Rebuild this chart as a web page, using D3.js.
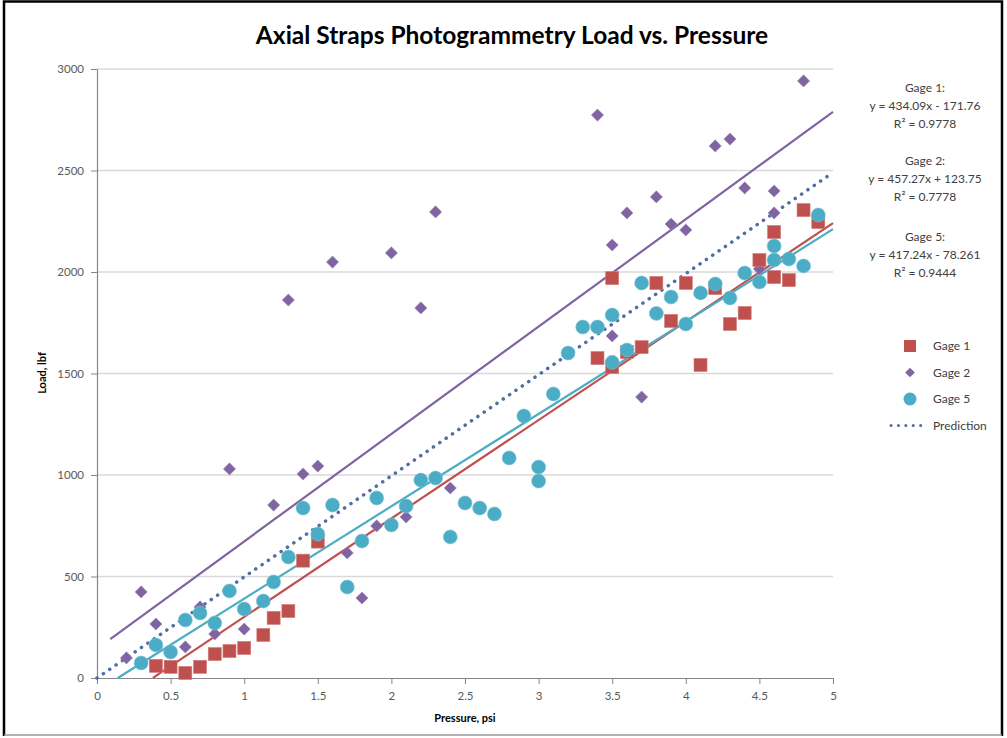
<!DOCTYPE html>
<html>
<head>
<meta charset="utf-8">
<script src="https://cdn.jsdelivr.net/npm/d3@7"></script>
<style>
  body { margin: 0; background: #fff; }
  text { font-family: Lato, "Open Sans", sans-serif; }
</style>
</head>
<body>
<div id="chart"></div>
<script>
// Données
const gage1X = [0.4, 0.5, 0.6, 0.7, 0.8, 0.9, 1.0, 1.13, 1.2, 1.3, 1.4, 1.5,
  3.4, 3.5, 3.5, 3.6, 3.7, 3.8, 3.9, 4.0, 4.1, 4.2, 4.3, 4.4, 4.5, 4.6, 4.6, 4.7, 4.8, 4.9];
const gage1Y = [60, 55, 25, 55, 118, 133, 148, 212, 296, 330, 578, 672,
  1576, 1970, 1532, 1606, 1630, 1946, 1759, 1946, 1542, 1921, 1744, 1798, 2059, 1975, 2197, 1960, 2305, 2246];

const gage2X = [0.2, 0.3, 0.4, 0.6, 0.7, 0.8, 0.9, 1.0, 1.2, 1.3, 1.4, 1.5, 1.6, 1.7, 1.8, 1.9, 2.0, 2.1, 2.2, 2.3, 2.4,
  3.4, 3.5, 3.5, 3.6, 3.7, 3.8, 3.9, 4.0, 4.2, 4.3, 4.4, 4.5, 4.6, 4.6, 4.8];
const gage2Y = [99, 424, 266, 153, 350, 217, 1030, 241, 852, 1862, 1005, 1044, 2049, 616, 394, 749, 2094, 793, 1823, 2296, 936,
  2773, 2133, 1685, 2291, 1384, 2370, 2236, 2207, 2621, 2655, 2414, 2015, 2399, 2291, 2941];

const gage5X = [0.3, 0.4, 0.5, 0.6, 0.7, 0.8, 0.9, 1.0, 1.13, 1.2, 1.3, 1.4, 1.5, 1.6, 1.7, 1.8, 1.9, 2.0, 2.1, 2.2, 2.3,
  2.4, 2.5, 2.6, 2.7, 2.8, 2.9, 3.0, 3.0, 3.1, 3.2, 3.3, 3.4, 3.5, 3.5, 3.6, 3.7, 3.8, 3.9, 4.0, 4.1, 4.2, 4.3, 4.4, 4.5,
  4.6, 4.6, 4.7, 4.8, 4.9];
const gage5Y = [74, 163, 128, 286, 320, 271, 429, 340, 379, 473, 596, 837, 709, 852, 448, 675, 887, 754, 847, 975, 985,
  695, 862, 837, 808, 1084, 1291, 1039, 970, 1399, 1601, 1729, 1729, 1788, 1555, 1616, 1946, 1796, 1877, 1744, 1897, 1941,
  1872, 1995, 1951, 2059, 2128, 2064, 2030, 2281];

// Courbes de tendance tracées (pente, ordonnée, début)
const trendSeries = ["Gage 1", "Gage 2", "Gage 5"];
const trendSlopes = [485, 529, 455];
const trendIntercepts = [-184, 144, -64];
const trendStarts = [0.38, 0.09, 0.141];
const trendEnd = 5;

const predX = [0, 5];
const predY = [0, 2490];

const equations = [
  ["Gage 1:", "y = 434.09x - 171.76", "R² = 0.9778"],
  ["Gage 2:", "y = 457.27x + 123.75", "R² = 0.7778"],
  ["Gage 5:", "y = 417.24x - 78.261", "R² = 0.9444"]
];
const legendNames = ["Gage 1", "Gage 2", "Gage 5", "Prediction"];
const xTicks = [0, 0.5, 1, 1.5, 2, 2.5, 3, 3.5, 4, 4.5, 5];
const yTicks = [0, 500, 1000, 1500, 2000, 2500, 3000];

// Dimensions
const width = 1007;
const height = 738;
const plotLeft = 97, plotRight = 833, plotTop = 69, plotBottom = 678;

const colors = { "Gage 1": "#C0504D", "Gage 2": "#8064A2", "Gage 5": "#4BACC6", "Prediction": "#4F6FA3" };

const svg = d3.select("#chart")
    .append("svg")
    .attr("width", width)
    .attr("height", height);

// Cadre
svg.append("path")
    .attr("d", "M4,736 V1.5 H1002 V736")
    .attr("fill", "none")
    .attr("stroke", "#000")
    .attr("stroke-width", 2.5);
svg.append("line")
    .attr("x1", 4).attr("x2", 1002).attr("y1", 735).attr("y2", 735)
    .attr("stroke", "#9a9a9a")
    .attr("stroke-width", 1.5);

const x = d3.scaleLinear().domain([0, 5]).range([plotLeft, plotRight]);
const y = d3.scaleLinear().domain([0, 3000]).range([plotBottom, plotTop]);

// Quadrillage
svg.append("g")
    .selectAll("line")
    .data(yTicks.filter(d => d > 0))
    .enter()
    .append("line")
    .attr("x1", plotLeft).attr("x2", plotRight)
    .attr("y1", d => y(d)).attr("y2", d => y(d))
    .attr("stroke", "#d9d9d9")
    .attr("stroke-width", 1.5);

// Axes
const xAxis = svg.append("g")
    .attr("transform", `translate(0,${plotBottom})`)
    .call(d3.axisBottom(x).tickValues(xTicks).tickFormat(d => d).tickSize(6).tickSizeOuter(0).tickPadding(8));
const yAxis = svg.append("g")
    .attr("transform", `translate(${plotLeft},0)`)
    .call(d3.axisLeft(y).tickValues(yTicks).tickFormat(d3.format("d")).tickSize(6).tickSizeOuter(0).tickPadding(7));

[xAxis, yAxis].forEach(function(g) {
    g.select(".domain").attr("stroke", "#868686").attr("stroke-width", 1.2);
    g.selectAll(".tick line").attr("stroke", "#868686");
    g.selectAll(".tick text")
        .attr("fill", "#595959")
        .style("font-size", "11.5px")
        .style("font-family", "Lato, sans-serif");
});

// Lignes de tendance
const line = d3.line().x(d => x(d[0])).y(d => y(d[1]));
trendSeries.forEach(function(name, i) {
    const pts = [trendStarts[i], trendEnd].map(v => [v, trendSlopes[i] * v + trendIntercepts[i]]);
    svg.append("path")
        .attr("d", line(pts))
        .attr("fill", "none")
        .attr("stroke", colors[name])
        .attr("stroke-width", 2.2);
});

// Prédiction
svg.append("path")
    .attr("d", line(predX.map((v, i) => [v, predY[i]])))
    .attr("fill", "none")
    .attr("stroke", colors["Prediction"])
    .attr("stroke-width", 3.5)
    .attr("stroke-linecap", "round")
    .attr("stroke-dasharray", "0.1 7.6");

// Points
const diamond = d3.symbol().type(d3.symbolDiamond2).size(95);
svg.append("g")
    .selectAll("path")
    .data(gage2X.map((v, i) => [v, gage2Y[i]]))
    .enter()
    .append("path")
    .attr("d", diamond)
    .attr("transform", d => `translate(${x(d[0])},${y(d[1])})`)
    .attr("fill", colors["Gage 2"])
    .attr("stroke", "#9c88b8")
    .attr("stroke-width", 0.6);

svg.append("g")
    .selectAll("rect")
    .data(gage1X.map((v, i) => [v, gage1Y[i]]))
    .enter()
    .append("rect")
    .attr("x", d => x(d[0]) - 6.5)
    .attr("y", d => y(d[1]) - 6.5)
    .attr("width", 13).attr("height", 13)
    .attr("fill", colors["Gage 1"])
    .attr("stroke", "#d07a77")
    .attr("stroke-width", 0.6);

svg.append("g")
    .selectAll("circle")
    .data(gage5X.map((v, i) => [v, gage5Y[i]]))
    .enter()
    .append("circle")
    .attr("cx", d => x(d[0]))
    .attr("cy", d => y(d[1]))
    .attr("r", 7)
    .attr("fill", colors["Gage 5"])
    .attr("stroke", "#7cc3d6")
    .attr("stroke-width", 0.6);

// Titre
svg.append("text")
    .attr("x", 512).attr("y", 44)
    .attr("text-anchor", "middle")
    .attr("fill", "#000")
    .style("font-size", "24.5px")
    .style("font-weight", "bold")
    .text("Axial Straps Photogrammetry Load vs. Pressure");

// Titres des axes
svg.append("text")
    .attr("x", 465).attr("y", 722)
    .attr("text-anchor", "middle")
    .attr("fill", "#000")
    .style("font-size", "11px")
    .style("font-weight", "bold")
    .text("Pressure, psi");
svg.append("text")
    .attr("transform", "translate(46,373) rotate(-90)")
    .attr("text-anchor", "middle")
    .attr("fill", "#000")
    .style("font-size", "11px")
    .style("font-weight", "bold")
    .text("Load, lbf");

// Équations
const eqTop = [92, 165, 241];
equations.forEach(function(lines, i) {
    lines.forEach(function(t, j) {
        svg.append("text")
            .attr("x", 925).attr("y", eqTop[i] + j * 18)
            .attr("text-anchor", "middle")
            .attr("fill", "#404040")
            .style("font-size", "12px")
            .text(t);
    });
});

// Légende
const legend = svg.append("g");
legendNames.forEach(function(name, i) {
    const ly = 346 + i * 26.5;
    if (name === "Gage 1") {
        legend.append("rect").attr("x", 904).attr("y", ly - 6).attr("width", 12).attr("height", 12)
            .attr("fill", colors[name]);
    } else if (name === "Gage 2") {
        legend.append("path").attr("d", d3.symbol().type(d3.symbolDiamond2).size(60))
            .attr("transform", `translate(910,${ly})`).attr("fill", colors[name]);
    } else if (name === "Gage 5") {
        legend.append("circle").attr("cx", 910).attr("cy", ly).attr("r", 6.5).attr("fill", colors[name]);
    } else {
        legend.append("line").attr("x1", 891).attr("x2", 928).attr("y1", ly).attr("y2", ly)
            .attr("stroke", colors[name]).attr("stroke-width", 3)
            .attr("stroke-linecap", "round").attr("stroke-dasharray", "0.1 7.3");
    }
    legend.append("text")
        .attr("x", 933).attr("y", ly + 4)
        .attr("fill", "#404040")
        .style("font-size", "12px")
        .text(name);
});
</script>
</body>
</html>
